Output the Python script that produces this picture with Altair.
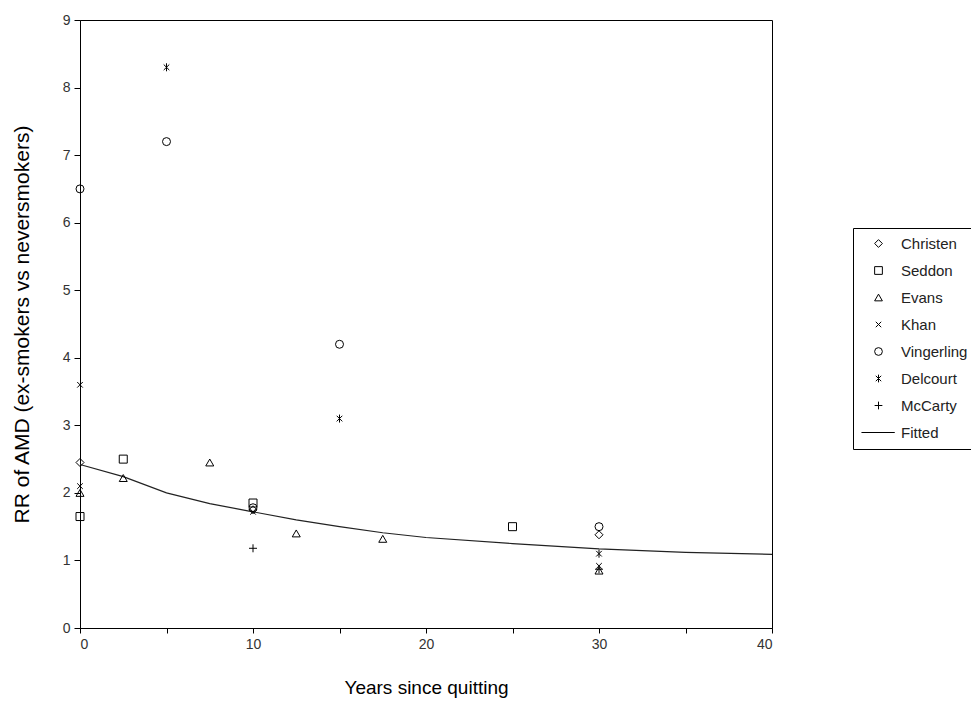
import altair as alt
import pandas as pd

series_names = ["Christen", "Seddon", "Evans", "Khan", "Vingerling", "Delcourt", "McCarty", "Fitted"]

christen_x = [0, 10, 30]
christen_y = [2.45, 1.75, 1.38]
seddon_x = [0, 2.5, 10, 25]
seddon_y = [1.65, 2.5, 1.85, 1.5]
evans_x = [0, 2.5, 7.5, 12.5, 17.5, 30]
evans_y = [2.0, 2.22, 2.45, 1.4, 1.32, 0.85]
khan_x = [0, 0, 10, 30]
khan_y = [3.6, 2.1, 1.72, 0.92]
vingerling_x = [0, 5, 10, 15, 30]
vingerling_y = [6.5, 7.2, 1.78, 4.2, 1.5]
delcourt_x = [5, 15, 30]
delcourt_y = [8.3, 3.1, 1.1]
mccarty_x = [10, 30]
mccarty_y = [1.18, 0.87]

fitted_x = [0, 2.5, 5, 7.5, 10, 12.5, 15, 17.5, 20, 25, 30, 35, 40]
fitted_y = [2.42, 2.24, 2.0, 1.84, 1.72, 1.6, 1.5, 1.41, 1.34, 1.25, 1.17, 1.12, 1.09]

x_ticks = [0, 5, 10, 15, 20, 25, 30, 35, 40]
y_ticks = [0, 1, 2, 3, 4, 5, 6, 7, 8, 9]

shape_range = [
    "diamond",
    "square",
    "triangle-up",
    "M-0.7,-0.7L0.7,0.7M0.7,-0.7L-0.7,0.7",
    "circle",
    "M-0.7,-0.7L0.7,0.7M0.7,-0.7L-0.7,0.7M0,-1L0,1",
    "M-1,0L1,0M0,-1L0,1",
    "M-4.4,0L4.2,0",
]

rows = []
for name, xs, ys in [
    ("Christen", christen_x, christen_y),
    ("Seddon", seddon_x, seddon_y),
    ("Evans", evans_x, evans_y),
    ("Khan", khan_x, khan_y),
    ("Vingerling", vingerling_x, vingerling_y),
    ("Delcourt", delcourt_x, delcourt_y),
    ("McCarty", mccarty_x, mccarty_y),
]:
    for xv, yv in zip(xs, ys):
        rows.append({"series": name, "x": xv, "y": yv})
pts = pd.DataFrame(rows)
fit = pd.DataFrame({"x": fitted_x, "y": fitted_y})

FONT = "Liberation Sans"

xscale = alt.Scale(domain=[0, 40], nice=False, zero=False)
yscale = alt.Scale(domain=[0, 9], nice=False)

xaxis = alt.Axis(
    title="Years since quitting",
    values=x_ticks,
    labelExpr="datum.value % 10 == 0 ? datum.label : ''",
    grid=False,
    tickSize=5,
    labelPadding=4,
    titlePadding=27,
)
yaxis = alt.Axis(
    title="RR of AMD (ex-smokers vs neversmokers)",
    values=y_ticks,
    format="d",
    grid=False,
    tickSize=6,
    labelPadding=4,
    titlePadding=30,
)

points = alt.Chart(pts).mark_point(filled=False, size=64, strokeWidth=1, opacity=1).encode(
    x=alt.X("x:Q", scale=xscale, axis=xaxis),
    y=alt.Y("y:Q", scale=yscale, axis=yaxis),
    shape=alt.Shape(
        "series:N",
        scale=alt.Scale(domain=series_names, range=shape_range),
        legend=alt.Legend(
            title=None,
            orient="none",
            legendX=773,
            legendY=208,
            strokeColor="black",
            fillColor="white",
            padding=8,
            symbolSize=60,
            symbolOffset=10,
            symbolStrokeColor="black",
            symbolStrokeWidth=1,
            symbolFillColor="transparent",
            labelFont=FONT,
            labelFontSize=15,
            labelColor="#222",
            labelOffset=15,
            rowPadding=11,
        ),
    ),
    color=alt.value("black"),
)

line = alt.Chart(fit).mark_line(color="#222", strokeWidth=1.2).encode(
    x=alt.X("x:Q", scale=xscale),
    y=alt.Y("y:Q", scale=yscale),
)

chart = (
    alt.layer(line, points)
    .properties(
        width=692,
        height=608,
        autosize=alt.AutoSizeParams(type="none"),
        padding={"left": 72, "top": 12, "right": 199, "bottom": 72},
        background="white",
    )
    .configure_view(stroke="black", strokeWidth=1)
    .configure_axis(
        domainColor="black",
        tickColor="black",
        labelColor="#333",
        labelFont=FONT,
        labelFontSize=14,
        titleFont=FONT,
        titleFontSize=19,
        titleFontWeight="normal",
        titleColor="black",
    )
    .configure_axisY(titleFontSize=21)
)

chart.save("out.html", embed_options={"renderer": "svg", "actions": False})
